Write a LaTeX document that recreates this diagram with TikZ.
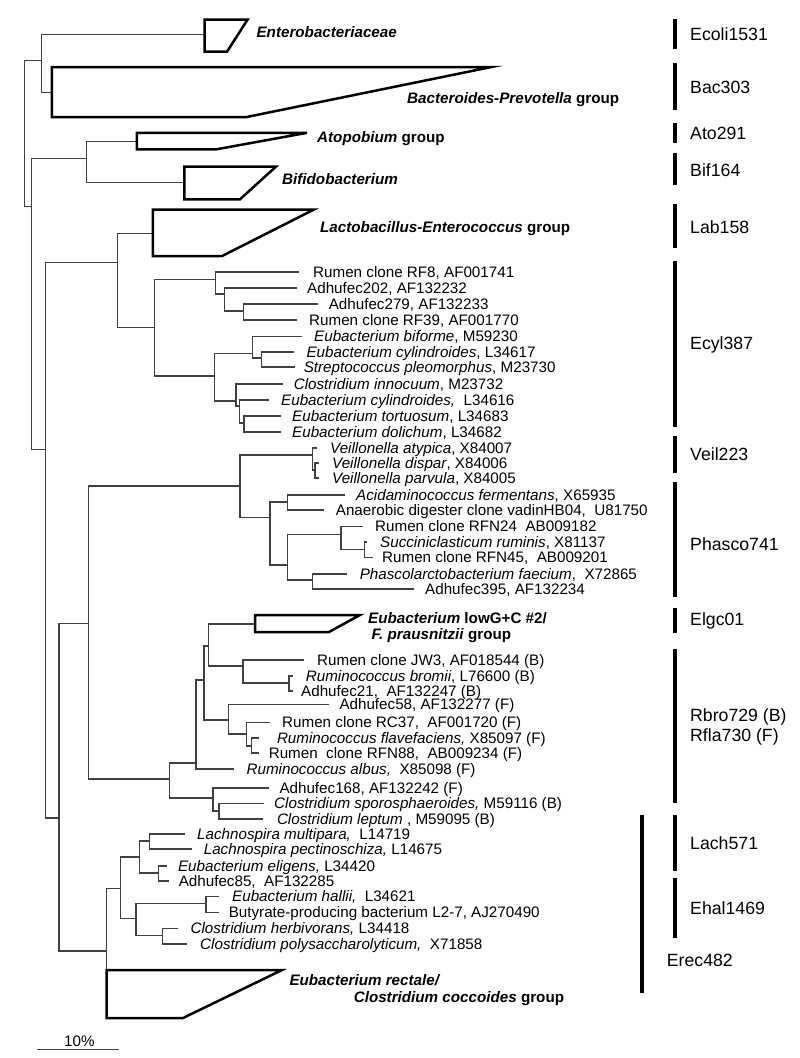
\documentclass[tikz,border=0pt]{standalone}
\usepackage{fontspec}
\setmainfont{Liberation Sans}[ItalicFont={Liberation Sans Italic},BoldFont={Liberation Sans Bold},BoldItalicFont={Liberation Sans Bold Italic}]
\begin{document}
\begin{tikzpicture}[x=1pt,y=-1pt,
  br/.style={draw=black!75,line width=1.1pt},
  clade/.style={draw=black,line width=2.5pt,line join=miter},
  leaf/.style={anchor=base west,inner sep=0pt,font=\fontsize{15.2}{16}\selectfont},
  grp/.style={anchor=base west,inner sep=0pt,font=\fontsize{15.2}{16}\selectfont\bfseries},
  probebar/.style={draw=black,line width=4.6pt},
  plabel/.style={anchor=base west,inner sep=0pt,font=\fontsize{17.7}{18}\selectfont}]
\fill[white] (0,0) rectangle (800,1058);
\useasboundingbox (0,0) rectangle (800,1058);

% ---------- internal nodes ----------
\coordinate (R) at (24.3,130);
\coordinate (EB) at (41.8,60.3);
\coordinate (N1) at (31.4,206.9);
\coordinate (EntB) at (204.6,34.5);
\coordinate (BacB) at (51.8,92.4);
\coordinate (AB) at (86.8,158.6);
\coordinate (AtoB) at (136.8,141.4);
\coordinate (BifB) at (184.3,182.8);
\coordinate (N2) at (45.4,449.3);
\coordinate (LE) at (117.9,262.7);
\coordinate (LacB) at (152.9,233.3);
\coordinate (EC) at (154.6,327.3);
\coordinate (A) at (215.7,279.3);
\coordinate (B) at (224.3,294);
\coordinate (C) at (243.7,311);
\coordinate (D) at (214.3,376);
\coordinate (E) at (252.3,353.3);
\coordinate (G) at (261.7,358);
\coordinate (F) at (236,401);
\coordinate (H) at (239.3,406);
\coordinate (I) at (244,423);
\coordinate (N3) at (59,818);
\coordinate (VR) at (88.2,623.3);
\coordinate (VP) at (240,486);
\coordinate (V1) at (312.7,455);
\coordinate (V2) at (315,470);
\coordinate (P0) at (270,517.3);
\coordinate (P1) at (287.7,502);
\coordinate (P2) at (287.7,565);
\coordinate (P3) at (341,534.3);
\coordinate (P4) at (364.3,549.5);
\coordinate (P5) at (312.3,580);
\coordinate (R0) at (169.3,779);
\coordinate (R1) at (196,763);
\coordinate (S) at (204,680);
\coordinate (Q1) at (208.3,646);
\coordinate (ElgB) at (255,624);
\coordinate (Q2) at (243,666);
\coordinate (Q3) at (289,683);
\coordinate (Q4) at (228.3,720);
\coordinate (Q5) at (246.7,734);
\coordinate (Q6) at (251.7,746);
\coordinate (R2) at (213,798);
\coordinate (R3) at (219,811);
\coordinate (L0) at (106.5,951);
\coordinate (ErecB) at (106.5,970);
\coordinate (L1) at (120.7,888.7);
\coordinate (L2) at (139.3,857);
\coordinate (L3) at (149.3,841);
\coordinate (L4) at (158.3,873);
\coordinate (L5) at (136,918.7);
\coordinate (L6) at (206,903.3);
\coordinate (L7) at (162.7,935.3);

% ---------- leaf ends ----------
\coordinate (lRF8) at (299,272);
\coordinate (lA202) at (297,288);
\coordinate (lA279) at (318,304);
\coordinate (lRF39) at (297,320);
\coordinate (lBif) at (301.5,336.5);
\coordinate (lCyl1) at (294,352);
\coordinate (lStr) at (295,367);
\coordinate (lInn) at (283,384);
\coordinate (lCyl2) at (269,400);
\coordinate (lTor) at (281,416);
\coordinate (lDol) at (281,432);
\coordinate (lAty) at (316.7,448);
\coordinate (lDis) at (319,463);
\coordinate (lPar) at (319,478);
\coordinate (lAci) at (345,495);
\coordinate (lAna) at (324,510);
\coordinate (lN24) at (363.3,526.5);
\coordinate (lSuc) at (367.3,542);
\coordinate (lN45) at (373.3,557.5);
\coordinate (lPha) at (347.3,574);
\coordinate (lA395) at (414,589);
\coordinate (lJW3) at (303.5,660);
\coordinate (lBro) at (293,676);
\coordinate (lA21) at (293,691);
\coordinate (lA58) at (328.6,704.5);
\coordinate (lRC37) at (270,722.5);
\coordinate (lFla) at (259,738);
\coordinate (lN88) at (259,753);
\coordinate (lAlb) at (234,769);
\coordinate (lA168) at (268.6,788);
\coordinate (lSpo) at (264,803.5);
\coordinate (lLep) at (262.5,819);
\coordinate (lMul) at (185,834);
\coordinate (lPec) at (191.7,849);
\coordinate (lEli) at (166.7,866);
\coordinate (lA85) at (169.3,881);
\coordinate (lHal) at (219.3,896.5);
\coordinate (lBut) at (219.3,912.5);
\coordinate (lHer) at (178.3,928.5);
\coordinate (lPol) at (186.7,944);

% ---------- branches ----------
\draw[br] (R) |- (EB) (R) |- (N1)
  (EB) |- (EntB) (EB) |- (BacB)
  (N1) |- (AB) (N1) |- (N2)
  (AB) |- (AtoB) (AB) |- (BifB)
  (N2) |- (LE) (N2) |- (N3)
  (LE) |- (LacB) (LE) |- (EC)
  (EC) |- (A) (EC) |- (D)
  (A) |- (lRF8) (A) |- (B)
  (B) |- (lA202) (B) |- (C)
  (C) |- (lA279) (C) |- (lRF39)
  (D) |- (E) (D) |- (F)
  (E) |- (lBif) (E) |- (G)
  (G) |- (lCyl1) (G) |- (lStr)
  (F) |- (lInn) (F) |- (H)
  (H) |- (lCyl2) (H) |- (I)
  (I) |- (lTor) (I) |- (lDol)
  (N3) |- (VR) (N3) |- (L0)
  (VR) |- (VP) (VR) |- (R0)
  (VP) |- (V1) (VP) |- (P0)
  (V1) |- (lAty) (V1) |- (V2)
  (V2) |- (lDis) (V2) |- (lPar)
  (P0) |- (P1) (P0) |- (P2)
  (P1) |- (lAci) (P1) |- (lAna)
  (P2) |- (P3) (P2) |- (P5)
  (P3) |- (lN24) (P3) |- (P4)
  (P4) |- (lSuc) (P4) |- (lN45)
  (P5) |- (lPha) (P5) |- (lA395)
  (R0) |- (R1) (R0) |- (R2)
  (R1) |- (S) (R1) |- (lAlb)
  (S) |- (Q1) (S) |- (Q4)
  (Q1) |- (ElgB) (Q1) |- (Q2)
  (Q2) |- (lJW3) (Q2) |- (Q3)
  (Q3) |- (lBro) (Q3) |- (lA21)
  (Q4) |- (lA58) (Q4) |- (Q5)
  (Q5) |- (lRC37) (Q5) |- (Q6)
  (Q6) |- (lFla) (Q6) |- (lN88)
  (R2) |- (lA168) (R2) |- (R3)
  (R3) |- (lSpo) (R3) |- (lLep)
  (L0) |- (L1) (L0) |- (ErecB)
  (L1) |- (L2) (L1) |- (L5)
  (L2) |- (L3) (L2) |- (L4)
  (L3) |- (lMul) (L3) |- (lPec)
  (L4) |- (lEli) (L4) |- (lA85)
  (L5) |- (L6) (L5) |- (L7)
  (L6) |- (lHal) (L6) |- (lBut)
  (L7) |- (lHer) (L7) |- (lPol);

% ---------- collapsed clades ----------
\draw[clade] (204.6,19.7) -- (247.5,19.7) -- (227,51.7) -- (204.6,51.7) -- cycle;
\draw[clade] (51.8,67.2) -- (490.4,67.2) -- (245.7,117.2) -- (51.8,117.2) -- cycle;
\draw[clade] (136.8,132.8) -- (307,132.8) -- (216.4,149.3) -- (136.8,149.3) -- cycle;
\draw[clade] (184.3,166.6) -- (276,166.6) -- (240,199.3) -- (184.3,199.3) -- cycle;
\draw[clade] (152.9,209.5) -- (314,209.5) -- (222.1,256) -- (152.9,256) -- cycle;
\draw[clade] (255,615) -- (360,615) -- (329,632) -- (255,632) -- cycle;
\draw[clade] (106.5,970) -- (282,970) -- (183,1018) -- (106.5,1018) -- cycle;

% ---------- clade labels ----------
\node[grp] (gEnt) at (256.4,37.1) {\textit{Enterobacteriaceae}};
\node[grp] (gBac) at (407,103.7) {\textit{Bacteroides-Prevotella} group};
\node[grp] (gAto) at (317,142.6) {\textit{Atopobium} group};
\node[grp] (gBif) at (282,184) {\textit{Bifidobacterium}};
\node[grp] (gLac) at (320,232.7) {\textit{Lactobacillus-Enterococcus} group};
\node[grp] (gElg1) at (368,623.4) {\textit{Eubacterium} lowG+C \#2/};
\node[grp] (gElg2) at (371.4,639.4) {\textit{F. prausnitzii} group};
\node[grp] (gErec1) at (289.3,985.4) {\textit{Eubacterium rectale/}};
\node[grp] (gErec2) at (353.6,1002.9) {\textit{Clostridium coccoides} group};

% ---------- leaf labels ----------
\node[leaf] (tRF8) at (313,277.4) {Rumen clone RF8, AF001741};
\node[leaf] (tA202) at (307,293.4) {Adhufec202, AF132232};
\node[leaf] (tA279) at (328.6,309.4) {Adhufec279, AF132233};
\node[leaf] (tRF39) at (309,325.4) {Rumen clone RF39, AF001770};
\node[leaf] (tBif) at (314,341.9) {\textit{Eubacterium biforme}, M59230};
\node[leaf] (tCyl1) at (306.4,357.4) {\textit{Eubacterium cylindroides}, L34617};
\node[leaf] (tStr) at (303.6,372.4) {\textit{Streptococcus pleomorphus}, M23730};
\node[leaf] (tInn) at (293.6,389.4) {\textit{Clostridium innocuum}, M23732};
\node[leaf] (tCyl2) at (281,405.4) {\textit{Eubacterium cylindroides,}~~L34616};
\node[leaf] (tTor) at (292,421.4) {\textit{Eubacterium tortuosum}, L34683};
\node[leaf] (tDol) at (292,437.4) {\textit{Eubacterium dolichum}, L34682};
\node[leaf] (tAty) at (330,453.4) {\textit{Veillonella atypica}, X84007};
\node[leaf] (tDis) at (332,468.4) {\textit{Veillonella dispar}, X84006};
\node[leaf] (tPar) at (332,483.4) {\textit{Veillonella parvula}, X84005};
\node[leaf] (tAci) at (356,500.4) {\textit{Acidaminococcus fermentans}, X65935};
\node[leaf] (tAna) at (335.7,515.4) {Anaerobic digester clone vadinHB04,~~U81750};
\node[leaf] (tN24) at (375,531.9) {Rumen clone RFN24~~AB009182};
\node[leaf] (tSuc) at (380,547.4) {\textit{Succiniclasticum ruminis}, X81137};
\node[leaf] (tN45) at (382,562.9) {Rumen clone RFN45,~~AB009201};
\node[leaf] (tPha) at (359.6,579.4) {\textit{Phascolarctobacterium faecium},~~X72865};
\node[leaf] (tA395) at (425,594.4) {Adhufec395, AF132234};
\node[leaf] (tJW3) at (317,665.4) {Rumen clone JW3, AF018544 (B)};
\node[leaf] (tBro) at (305.7,681.4) {\textit{Ruminococcus bromii}, L76600 (B)};
\node[leaf] (tA21) at (301,696.4) {Adhufec21,~~AF132247 (B)};
\node[leaf] (tA58) at (339.3,709.9) {Adhufec58, AF132277 (F)};
\node[leaf] (tRC37) at (282,727.9) {Rumen clone RC37,~~AF001720 (F)};
\node[leaf] (tFla) at (276.8,743.4) {\textit{Ruminococcus flavefaciens,} X85097 (F)};
\node[leaf] (tN88) at (268.6,758.4) {Rumen~~clone RFN88,~~AB009234 (F)};
\node[leaf] (tAlb) at (246.4,774.4) {\textit{Ruminococcus albus,}~~X85098 (F)};
\node[leaf] (tA168) at (279.3,793.4) {Adhufec168, AF132242 (F)};
\node[leaf] (tSpo) at (274,808.9) {\textit{Clostridium sporosphaeroides,} M59116 (B)};
\node[leaf] (tLep) at (276.8,824.4) {\textit{Clostridium leptum} , M59095 (B)};
\node[leaf] (tMul) at (197,839.4) {\textit{Lachnospira multipara,}~~L14719};
\node[leaf] (tPec) at (203.6,854.4) {\textit{Lachnospira pectinoschiza,} L14675};
\node[leaf] (tEli) at (177.9,871.4) {\textit{Eubacterium eligens,} L34420};
\node[leaf] (tA85) at (178.6,886.4) {Adhufec85,~~AF132285};
\node[leaf] (tHal) at (232,901.9) {\textit{Eubacterium hallii,}~~L34621};
\node[leaf] (tBut) at (228.6,917.9) {Butyrate-producing bacterium L2-7, AJ270490};
\node[leaf] (tHer) at (190.4,933.9) {\textit{Clostridium herbivorans,} L34418};
\node[leaf] (tPol) at (200,949.4) {\textit{Clostridium polysaccharolyticum,}~~X71858};

% ---------- probe bars ----------
\draw[probebar] (675,19.3) -- (675,49.3);
\draw[probebar] (675,63.3) -- (675,110);
\draw[probebar] (675,123.3) -- (675,142.7);
\draw[probebar] (675,153.3) -- (675,185.3);
\draw[probebar] (675,204) -- (675,248.3);
\draw[probebar] (675,261) -- (675,426.7);
\draw[probebar] (675,436) -- (675,472.7);
\draw[probebar] (675,481.7) -- (675,597.3);
\draw[probebar] (675,607.7) -- (675,632.7);
\draw[probebar] (675,649.3) -- (675,803.3);
\draw[probebar] (675,815) -- (675,871);
\draw[probebar] (675,878.3) -- (675,938.3);
\draw[probebar] (642,815) -- (642,992.7);

\node[plabel] (pEco) at (690,40.6) {Ecoli1531};
\node[plabel] (pBac) at (690,93.6) {Bac303};
\node[plabel] (pAto) at (690,139) {Ato291};
\node[plabel] (pBif) at (690,176.3) {Bif164};
\node[plabel] (pLab) at (690,233) {Lab158};
\node[plabel] (pEcy) at (690,349) {Ecyl387};
\node[plabel] (pVei) at (690,460.3) {Veil223};
\node[plabel] (pPha) at (690,550.3) {Phasco741};
\node[plabel] (pElg) at (690,625.6) {Elgc01};
\node[plabel] (pRbr) at (690,721.3) {Rbro729 (B)};
\node[plabel] (pRfl) at (690,741.3) {Rfla730 (F)};
\node[plabel] (pLac) at (690,849.6) {Lach571};
\node[plabel] (pEha) at (690,914.6) {Ehal1469};
\node[plabel] (pEre) at (666.7,966.3) {Erec482};

% ---------- scale bar ----------
\coordinate (sb1) at (36.8,1049.5);
\coordinate (sb2) at (118.6,1049.5);
\draw[br] (sb1) -- (sb2);
\node[leaf] (sbl) at (64,1046.4) {10\%};
\end{tikzpicture}
\end{document}
